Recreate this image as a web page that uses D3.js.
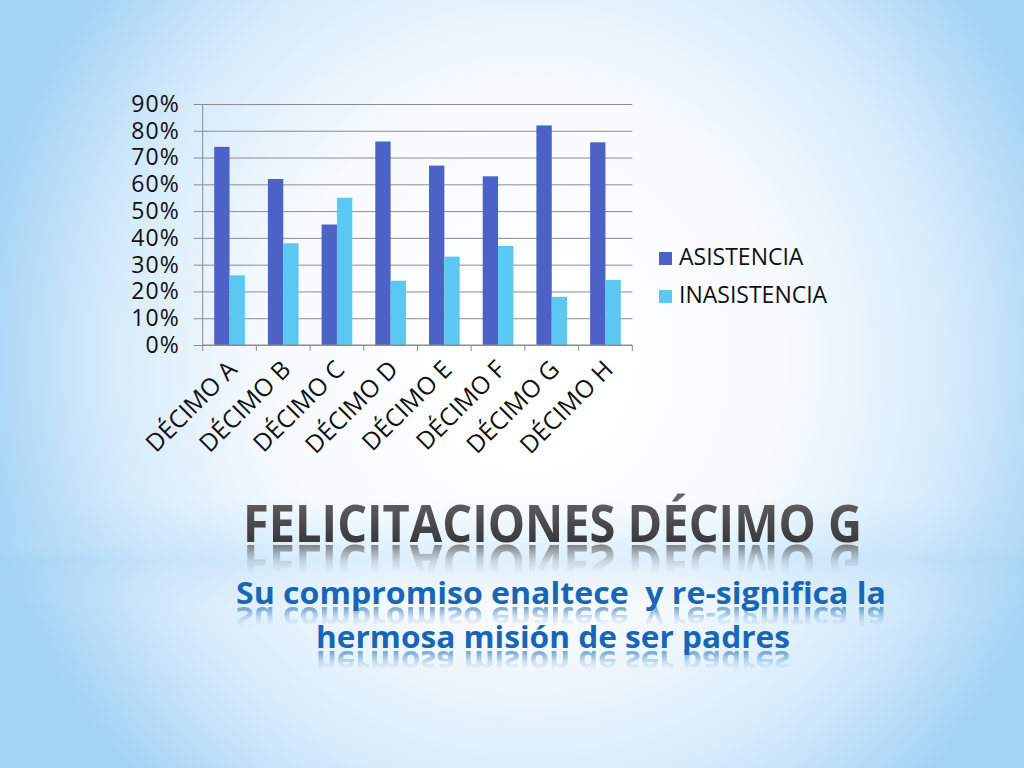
<!DOCTYPE html>
<html>
<head>
<meta charset="utf-8">
<script src="https://cdn.jsdelivr.net/npm/d3@7"></script>
<style>
  html, body { margin: 0; padding: 0; overflow: hidden; }
  text { font-family: "Open Sans", "DejaVu Sans", sans-serif; }
</style>
</head>
<body>
<script>
var categories = ["DÉCIMO A","DÉCIMO B","DÉCIMO C","DÉCIMO D","DÉCIMO E","DÉCIMO F","DÉCIMO G","DÉCIMO H"];
var asistencia = [0.74, 0.62, 0.45, 0.76, 0.67, 0.63, 0.82, 0.757];
var inasistencia = [0.26, 0.38, 0.55, 0.24, 0.33, 0.37, 0.18, 0.243];
var seriesNames = ["ASISTENCIA", "INASISTENCIA"];
var yTicks = [0, 0.1, 0.2, 0.3, 0.4, 0.5, 0.6, 0.7, 0.8, 0.9];
var titleText = "FELICITACIONES DÉCIMO G";
var subtitleLines = ["Su compromiso enaltece  y re-significa la", "hermosa misión de ser padres"];

var W = 1024, H = 768;
var colors = ["#4c62c7", "#5ac8f1"];

var svg = d3.select("body").append("svg").attr("width", W).attr("height", H);
var defs = svg.append("defs");

// background
var bg = defs.append("radialGradient").attr("id", "bg")
    .attr("gradientUnits", "userSpaceOnUse")
    .attr("cx", 530).attr("cy", 360).attr("r", 560)
    .attr("gradientTransform", "translate(530,360) scale(1,1.05) translate(-530,-360)");
bg.append("stop").attr("offset", "0%").attr("stop-color", "#ffffff");
bg.append("stop").attr("offset", "45%").attr("stop-color", "#f8fbfe");
bg.append("stop").attr("offset", "75%").attr("stop-color", "#d6ebfb");
bg.append("stop").attr("offset", "100%").attr("stop-color", "#a3d3f6");
svg.append("rect").attr("width", W).attr("height", H).attr("fill", "url(#bg)");

var band = defs.append("linearGradient").attr("id", "band").attr("x1", 0).attr("y1", 0).attr("x2", 0).attr("y2", 1);
band.append("stop").attr("offset", "0%").attr("stop-color", "#b5dcf7").attr("stop-opacity", 0);
band.append("stop").attr("offset", "45%").attr("stop-color", "#b5dcf7").attr("stop-opacity", 0.35);
band.append("stop").attr("offset", "55%").attr("stop-color", "#9fd0f4").attr("stop-opacity", 0.3);
band.append("stop").attr("offset", "100%").attr("stop-color", "#b5dcf7").attr("stop-opacity", 0);
svg.append("rect").attr("x", 0).attr("y", 500).attr("width", W).attr("height", 110).attr("fill", "url(#band)");

// chart
var plotLeft = 202.7, plotRight = 632.3, plotTop = 104, plotBottom = 345;

var x = d3.scaleBand().domain(categories).range([plotLeft, plotRight]).paddingInner(0).paddingOuter(0);
var xSub = d3.scaleBand().domain(seriesNames).range([0, x.bandwidth()]).paddingInner(0).paddingOuter(0.75);
var y = d3.scaleLinear().domain([0, 0.9]).range([plotBottom, plotTop]);

// gridlines
var grid = svg.append("g").attr("transform", "translate(" + plotRight + ",0)")
    .call(d3.axisLeft(y).tickValues(yTicks).tickSize(plotRight - plotLeft + 9).tickFormat(""));
grid.select(".domain").remove();
grid.selectAll("line").attr("stroke", "#8c8c8c").attr("stroke-width", 1);

// y labels
var yAxis = svg.append("g").attr("transform", "translate(" + (plotLeft - 9) + ",0)")
    .call(d3.axisLeft(y).tickValues(yTicks).tickSize(0).tickPadding(14).tickFormat(d3.format(".0%")));
yAxis.select(".domain").remove();
yAxis.selectAll("text").attr("font-size", 23).attr("letter-spacing", 1)
    .attr("fill", "#111").style("font-family", "'Open Sans', sans-serif");

// bars
var rows = categories.map(function(c, i) { return { cat: c, vals: [asistencia[i], inasistencia[i]] }; });
var groups = svg.selectAll("g.cat").data(rows).enter().append("g")
    .attr("class", "cat")
    .attr("transform", function(d) { return "translate(" + x(d.cat) + ",0)"; });
groups.selectAll("rect").data(function(d) {
        return d.vals.map(function(v, j) { return { name: seriesNames[j], v: v, j: j }; });
    }).enter().append("rect")
    .attr("x", function(d) { return xSub(d.name); })
    .attr("width", xSub.bandwidth())
    .attr("y", function(d) { return y(d.v); })
    .attr("height", function(d) { return plotBottom - y(d.v); })
    .attr("fill", function(d) { return colors[d.j]; });

// axes lines
svg.append("line").attr("x1", plotLeft).attr("x2", plotLeft).attr("y1", plotTop).attr("y2", plotBottom)
    .attr("stroke", "#8c8c8c");
var xAxisG = svg.append("g").attr("transform", "translate(0," + plotBottom + ")");
xAxisG.append("line").attr("x1", plotLeft).attr("x2", plotRight).attr("stroke", "#8c8c8c");
xAxisG.selectAll("line.tk").data(categories.concat(["end"])).enter().append("line")
    .attr("class", "tk")
    .attr("x1", function(d, i) { return i < categories.length ? x(d) : plotRight; })
    .attr("x2", function(d, i) { return i < categories.length ? x(d) : plotRight; })
    .attr("y1", 0).attr("y2", 6).attr("stroke", "#8c8c8c");

xAxisG.selectAll("text").data(categories).enter().append("text")
    .attr("transform", function(d) {
        return "translate(" + (x(d) + x.bandwidth() / 2 + 9) + ",26) rotate(-45)";
    })
    .attr("text-anchor", "end")
    .attr("font-size", 24.5)
    .attr("fill", "#111")
    .text(function(d) { return d; });

// legend
var legend = svg.append("g").attr("transform", "translate(659,252)");
var li = legend.selectAll("g").data(seriesNames).enter().append("g")
    .attr("transform", function(d, i) { return "translate(0," + (i * 38) + ")"; });
li.append("rect").attr("width", 13).attr("height", 13).attr("fill", function(d, i) { return colors[i]; });
li.append("text").attr("x", 20).attr("y", 13).attr("font-size", 23).attr("fill", "#111")
    .text(function(d) { return d; });

// title with reflection
var tg = defs.append("linearGradient").attr("id", "tg").attr("x1", 0).attr("y1", 0).attr("x2", 0).attr("y2", 1);
tg.append("stop").attr("offset", "0%").attr("stop-color", "#6e6e70");
tg.append("stop").attr("offset", "100%").attr("stop-color", "#2a2a2c");

var fade = defs.append("linearGradient").attr("id", "fade").attr("x1", 0).attr("y1", 0).attr("x2", 0).attr("y2", 1);
fade.append("stop").attr("offset", "0%").attr("stop-color", "#fff").attr("stop-opacity", 0.65);
fade.append("stop").attr("offset", "60%").attr("stop-color", "#fff").attr("stop-opacity", 0.15);
fade.append("stop").attr("offset", "100%").attr("stop-color", "#fff").attr("stop-opacity", 0);

function addReflected(txt, cx, baseline, size, width, fill, refH) {
    var id = "m" + Math.round(baseline);
    var m = defs.append("mask").attr("id", id).attr("maskUnits", "userSpaceOnUse");
    m.append("rect").attr("x", 0).attr("y", baseline + 1).attr("width", W).attr("height", refH)
        .attr("fill", "url(#fade)");
    svg.append("g").attr("mask", "url(#" + id + ")")
        .append("text")
        .attr("transform", "translate(0," + (2 * baseline + 3) + ") scale(1,-1)")
        .attr("x", cx).attr("y", baseline)
        .attr("text-anchor", "middle").attr("font-size", size).attr("font-weight", "bold")
        .attr("textLength", width).attr("lengthAdjust", "spacingAndGlyphs")
        .style("white-space", "pre")
        .attr("fill", fill).text(txt);
    svg.append("text")
        .attr("x", cx).attr("y", baseline)
        .attr("text-anchor", "middle").attr("font-size", size).attr("font-weight", "bold")
        .attr("textLength", width).attr("lengthAdjust", "spacingAndGlyphs")
        .style("white-space", "pre")
        .attr("fill", fill).text(txt);
}

addReflected(titleText, 552.5, 542, 52, 619, "url(#tg)", 30);
addReflected(subtitleLines[0], 561, 604, 31, 650, "#1767b6", 22);
addReflected(subtitleLines[1], 553, 648, 31, 474, "#1767b6", 22);
</script>
</body>
</html>
